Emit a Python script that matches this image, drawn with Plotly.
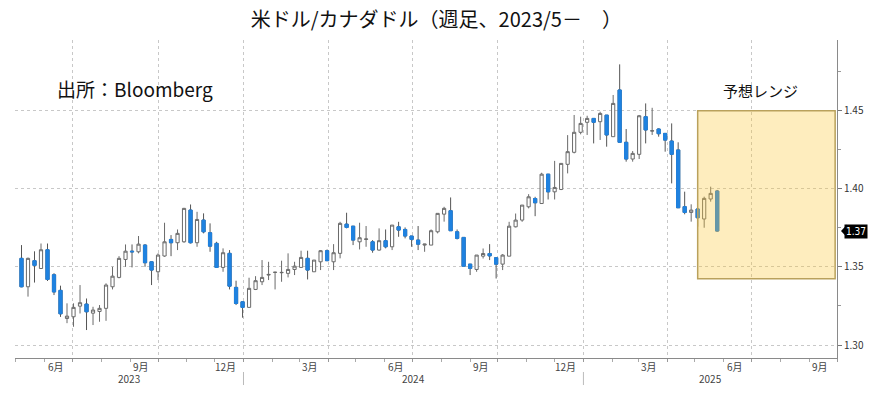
import pandas as pd
import plotly.graph_objects as go

# ---------------- data (weekly USD/CAD) ----------------
first_week = "2023-05-07"

open_ = [1.3555, 1.3373, 1.3540, 1.3490, 1.3610, 1.3450, 1.3350, 1.3170, 1.3181, 1.3249,
         1.3262, 1.3204, 1.3215, 1.3235, 1.3373, 1.3433, 1.3548, 1.3601, 1.3597, 1.3640,
         1.3533, 1.3469, 1.3570, 1.3676, 1.3655, 1.3661, 1.3864, 1.3655, 1.3800, 1.3719,
         1.3651, 1.3497, 1.3587, 1.3369, 1.3277, 1.3241, 1.3356, 1.3405, 1.3448, 1.3465,
         1.3463, 1.3459, 1.3484, 1.3497, 1.3555, 1.3469, 1.3533, 1.3604, 1.3533, 1.3587,
         1.3774, 1.3761, 1.3661, 1.3676, 1.3661, 1.3608, 1.3668, 1.3629, 1.3757, 1.3740,
         1.3698, 1.3672, 1.3640, 1.3640, 1.3725, 1.3838, 1.3860, 1.3725, 1.3689, 1.3518,
         1.3484, 1.3569, 1.3586, 1.3559, 1.3518, 1.3569, 1.3757, 1.3800, 1.3885, 1.3938,
         1.3906, 1.4094, 1.3981, 1.3996, 1.4157, 1.4234, 1.4362, 1.4426, 1.4451, 1.4430,
         1.4472, 1.4334, 1.4633, 1.4298, 1.4191, 1.4221, 1.4462, 1.4370, 1.4383, 1.4355,
         1.4306, 1.4249, 1.3886, 1.3849, 1.3871, 1.3807, 1.3935, 1.3986]

high = [1.3640, 1.3560, 1.3600, 1.3650, 1.3650, 1.3460, 1.3380, 1.3267, 1.3267, 1.3384,
        1.3298, 1.3245, 1.3256, 1.3395, 1.3501, 1.3569, 1.3644, 1.3644, 1.3698, 1.3646,
        1.3535, 1.3587, 1.3783, 1.3704, 1.3740, 1.3878, 1.3900, 1.3853, 1.3843, 1.3779,
        1.3661, 1.3619, 1.3608, 1.3412, 1.3277, 1.3431, 1.3441, 1.3544, 1.3533, 1.3469,
        1.3540, 1.3587, 1.3533, 1.3604, 1.3604, 1.3544, 1.3608, 1.3612, 1.3646, 1.3789,
        1.3847, 1.3761, 1.3783, 1.3762, 1.3672, 1.3747, 1.3740, 1.3768, 1.3789, 1.3753,
        1.3698, 1.3762, 1.3648, 1.3740, 1.3843, 1.3885, 1.3945, 1.3740, 1.3689, 1.3518,
        1.3576, 1.3618, 1.3646, 1.3559, 1.3582, 1.3789, 1.3842, 1.3896, 1.3966, 1.3949,
        1.4103, 1.4094, 1.4179, 1.4163, 1.4344, 1.4473, 1.4462, 1.4468, 1.4451, 1.4494,
        1.4472, 1.4601, 1.4797, 1.4383, 1.4242, 1.4473, 1.4547, 1.4519, 1.4387, 1.4355,
        1.4419, 1.4298, 1.3982, 1.3901, 1.3871, 1.3950, 1.4014, 1.3993]

low = [1.3370, 1.3310, 1.3400, 1.3490, 1.3410, 1.3320, 1.3180, 1.3140, 1.3117, 1.3202,
       1.3096, 1.3128, 1.3149, 1.3155, 1.3356, 1.3427, 1.3501, 1.3497, 1.3587, 1.3501,
       1.3384, 1.3416, 1.3565, 1.3569, 1.3608, 1.3655, 1.3650, 1.3629, 1.3715, 1.3597,
       1.3497, 1.3469, 1.3356, 1.3256, 1.3175, 1.3241, 1.3352, 1.3384, 1.3416, 1.3356,
       1.3405, 1.3433, 1.3448, 1.3497, 1.3420, 1.3469, 1.3480, 1.3540, 1.3480, 1.3555,
       1.3747, 1.3640, 1.3612, 1.3629, 1.3591, 1.3604, 1.3619, 1.3608, 1.3693, 1.3683,
       1.3629, 1.3608, 1.3597, 1.3640, 1.3715, 1.3790, 1.3732, 1.3676, 1.3505, 1.3448,
       1.3469, 1.3554, 1.3544, 1.3426, 1.3480, 1.3569, 1.3753, 1.3789, 1.3875, 1.3825,
       1.3906, 1.3932, 1.3932, 1.3992, 1.4099, 1.4227, 1.4349, 1.4345, 1.4291, 1.4313,
       1.4270, 1.4334, 1.4298, 1.4174, 1.4174, 1.4191, 1.4291, 1.4345, 1.4334, 1.4238,
       1.4035, 1.3879, 1.3837, 1.3790, 1.3758, 1.3751, 1.3918, 1.3726]

close = [1.3373, 1.3555, 1.3510, 1.3610, 1.3420, 1.3340, 1.3200, 1.3185, 1.3241, 1.3271,
         1.3213, 1.3224, 1.3235, 1.3384, 1.3441, 1.3555, 1.3601, 1.3597, 1.3646, 1.3527,
         1.3480, 1.3576, 1.3661, 1.3655, 1.3715, 1.3875, 1.3655, 1.3804, 1.3725, 1.3633,
         1.3497, 1.3591, 1.3377, 1.3266, 1.3241, 1.3363, 1.3412, 1.3433, 1.3452, 1.3466,
         1.3465, 1.3484, 1.3505, 1.3561, 1.3480, 1.3544, 1.3604, 1.3540, 1.3591, 1.3779,
         1.3753, 1.3672, 1.3687, 1.3679, 1.3608, 1.3668, 1.3629, 1.3768, 1.3736, 1.3698,
         1.3676, 1.3646, 1.3646, 1.3732, 1.3843, 1.3875, 1.3732, 1.3683, 1.3505, 1.3491,
         1.3576, 1.3586, 1.3571, 1.3518, 1.3576, 1.3761, 1.3800, 1.3896, 1.3949, 1.3911,
         1.4094, 1.3981, 1.4009, 1.4163, 1.4238, 1.4362, 1.4419, 1.4451, 1.4426, 1.4483,
         1.4345, 1.4547, 1.4298, 1.4191, 1.4227, 1.4468, 1.4377, 1.4372, 1.4353, 1.4312,
         1.4221, 1.3879, 1.3849, 1.3864, 1.3815, 1.3939, 1.3971, 1.3730]

# forecast range (予想レンジ)
forecast_start = "2025-05-04"
forecast_end = "2025-09-29"
forecast_low = 1.3425
forecast_high = 1.45

# axis labels
month_labels = ["6月", "9月", "12月", "3月", "6月", "9月", "12月", "3月", "6月", "9月"]
month_label_months = ["2023-06", "2023-09", "2023-12", "2024-03", "2024-06", "2024-09",
                      "2024-12", "2025-03", "2025-06", "2025-09"]
year_labels = ["2023", "2024", "2025"]
y_ticks = [1.30, 1.35, 1.40, 1.45]
y_minor_ticks = [1.325, 1.375, 1.425, 1.475]

x_range = ["2023-04-30", "2025-10-01"]
y_range = [1.2917, 1.4953]

# ---------------- styles ----------------
BLUE = "#1f82e0"
FONT = "Noto Sans CJK JP"

dates = pd.date_range(first_week, periods=len(close), freq="7D")

fig = go.Figure()

# full candles (wicks + outlines)
fig.add_trace(go.Candlestick(
    x=dates, open=open_, high=high, low=low, close=close,
    increasing=dict(line=dict(color="#6a6a6a", width=1), fillcolor="#ffffff"),
    decreasing=dict(line=dict(color="#555555", width=1), fillcolor=BLUE),
    whiskerwidth=0, showlegend=False, name="USD/CAD",
))

# blue bodies redrawn without dark outline
down = [i for i in range(len(close)) if close[i] < open_[i]]
fig.add_trace(go.Candlestick(
    x=[dates[i] for i in down],
    open=[open_[i] for i in down], high=[open_[i] for i in down],
    low=[close[i] for i in down], close=[close[i] for i in down],
    increasing=dict(line=dict(color=BLUE, width=1), fillcolor=BLUE),
    decreasing=dict(line=dict(color=BLUE, width=1), fillcolor=BLUE),
    whiskerwidth=0, showlegend=False, hoverinfo="skip",
))

# forecast range box (semi-transparent, drawn above candles)
fig.add_shape(type="rect", xref="x", yref="y",
              x0=forecast_start, x1=forecast_end, y0=forecast_low, y1=forecast_high,
              fillcolor="rgba(252,198,52,0.32)", line=dict(color="#b9a15c", width=1.5),
              layer="above")

range_start = pd.Timestamp(x_range[0])
range_end = pd.Timestamp(x_range[1])
fmid = pd.Timestamp(forecast_start) + (pd.Timestamp(forecast_end) - pd.Timestamp(forecast_start)) / 2
fig.add_annotation(x=fmid, y=forecast_high, xref="x", yref="y", text="予想レンジ",
                   showarrow=False, yshift=20, xshift=-6,
                   font=dict(family=FONT, size=15, color="#111"))

fig.add_annotation(x=0.0487, y=0.849, xref="paper", yref="paper", text="出所：Bloomberg",
                   showarrow=False, xanchor="left", yanchor="middle",
                   font=dict(family=FONT, size=19, color="#111"))

# month labels
for lab, ym in zip(month_labels, month_label_months):
    d = pd.Timestamp(ym + "-13")
    fig.add_annotation(x=d, y=0, xref="x", yref="paper", text=lab, showarrow=False,
                       yanchor="middle", yshift=-8,
                       font=dict(family=FONT, size=10, color="#444"))

# year labels and separators
bounds = [range_start] + [pd.Timestamp(f"{y}-01-01") for y in year_labels[1:]] + [range_end]
for i, ylab in enumerate(year_labels):
    mid = bounds[i] + (bounds[i + 1] - bounds[i]) / 2
    fig.add_annotation(x=mid, y=0, xref="x", yref="paper", text=ylab, showarrow=False,
                       yanchor="middle", yshift=-20,
                       font=dict(family=FONT, size=10, color="#444"))
for b in bounds[1:-1]:
    fig.add_shape(type="line", xref="x", yref="paper", x0=b, x1=b, y0=-0.044, y1=-0.085,
                  line=dict(color="#bbbbbb", width=1))

# last price tag
last = close[-1]
fig.add_annotation(x=1, y=last, xref="paper", yref="y", text=f"{last:.2f}", showarrow=False,
                   xanchor="left", xshift=7, bgcolor="#000000", borderpad=1,
                   font=dict(family="DejaVu Sans Condensed, Noto Sans", size=10, color="#ffffff"))
fig.add_shape(type="path", xref="paper", yref="y",
              path=f"M 1.0049 {last} L 1.0122 {last + 0.0042} L 1.0122 {last - 0.0042} Z",
              fillcolor="#000000", line=dict(width=0))

quarter_starts = pd.date_range("2023-07-01", "2025-10-01", freq="QS-JAN")

fig.update_layout(
    width=878, height=393,
    margin=dict(l=15, r=41, t=40, b=35),
    paper_bgcolor="white", plot_bgcolor="white",
    title=dict(text="米ドル/カナダドル（週足、2023/5－　）", x=0.497, xref="container",
               y=0.949, yref="container", yanchor="middle", xanchor="center",
               font=dict(family=FONT, size=20, color="#111")),
    showlegend=False,
    xaxis=dict(
        type="date", range=x_range, rangeslider=dict(visible=False),
        tickmode="array", tickvals=list(quarter_starts), showticklabels=False,
        ticks="outside", ticklen=3, tickcolor="#999",
        showgrid=True, gridcolor="#c8c8c8", griddash="dot", gridwidth=1,
        showline=True, linecolor="#8a8a8a", linewidth=1, zeroline=False,
        minor=dict(dtick="M1", tick0="2023-05-01", ticks="outside", ticklen=3,
                   tickcolor="#aaa", showgrid=False),
        fixedrange=True,
    ),
    yaxis=dict(
        side="right", range=y_range, tickmode="array", tickvals=y_ticks,
        tickformat=".2f", ticks="outside", ticklen=4, tickcolor="#777",
        showgrid=True, gridcolor="#c8c8c8", griddash="dot", gridwidth=1,
        showline=True, linecolor="#8a8a8a", linewidth=1, zeroline=False,
        tickfont=dict(family=FONT, size=10, color="#333"),
        minor=dict(tickmode="array", tickvals=y_minor_ticks, ticks="outside",
                   ticklen=3, tickcolor="#999", showgrid=False),
        fixedrange=True,
    ),
)

fig.write_html("out.html", config={"displayModeBar": False},
               post_script="document.body.style.margin='0px';")
